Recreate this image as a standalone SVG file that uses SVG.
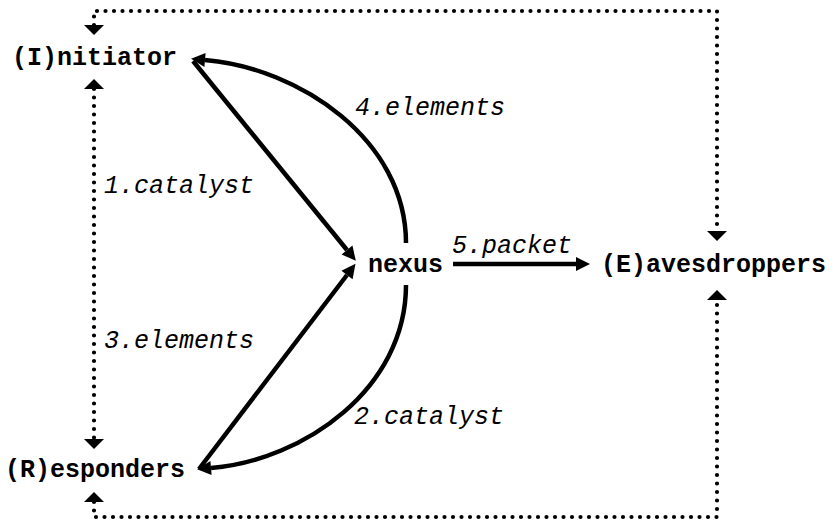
<svg xmlns="http://www.w3.org/2000/svg" width="836" height="524" viewBox="0 0 836 524">
<style>
.node{font-family:"Liberation Mono","Courier New",monospace;font-weight:bold;font-size:25px;fill:#000}
.lbl{font-family:"Liberation Mono","Courier New",monospace;font-style:italic;font-size:25px;fill:#000}
.solid{fill:none;stroke:#000;stroke-width:4.5}
.dot{fill:none;stroke:#000;stroke-width:4.2;stroke-linecap:round;stroke-dasharray:0 8.5}
</style>
<defs>
<marker id="ah" markerUnits="userSpaceOnUse" markerWidth="16" markerHeight="16" refX="0" refY="7" orient="auto-start-reverse" overflow="visible">
<path d="M0,0 L14,7 L0,14 z" fill="#000"/>
</marker>
<marker id="dh" markerUnits="userSpaceOnUse" markerWidth="22" markerHeight="22" refX="0" refY="10" orient="auto-start-reverse" overflow="visible">
<path d="M0,0 L10,10 L0,20 z" fill="#000"/>
</marker>
</defs>
<rect width="836" height="524" fill="#fff"/>
<g id="connectors">
<path class="solid" d="M193,61 L347,250" marker-end="url(#ah)"/>
<path class="solid" d="M199,469 L347,275" marker-end="url(#ah)"/>
<path class="solid" d="M406,243 C406,140 300,68 205,60" marker-end="url(#ah)"/>
<path class="solid" d="M406,285 C406,388 305,460 211,468" marker-end="url(#ah)"/>
<path class="solid" d="M453,264 L576,264" marker-end="url(#ah)"/>
<path class="dot" d="M94,89 L94,439" marker-start="url(#dh)" marker-end="url(#dh)"/>
<path class="dot" d="M94,25 L94,11 L717,11 L717,231" marker-start="url(#dh)" marker-end="url(#dh)"/>
<path class="dot" d="M94,502 L94,517 L717,517 L717,300" marker-start="url(#dh)" marker-end="url(#dh)"/>
<text class="lbl" x="104" y="193">1.catalyst</text>
<text class="lbl" x="354" y="424">2.catalyst</text>
<text class="lbl" x="104" y="348">3.elements</text>
<text class="lbl" x="355" y="115">4.elements</text>
<text class="lbl" x="452" y="253">5.packet</text>
</g>
<g id="initiator"><text class="node" x="12" y="65">(I)nitiator</text></g>
<g id="responders"><text class="node" x="5" y="477">(R)esponders</text></g>
<g id="nexus"><text class="node" x="368" y="272">nexus</text></g>
<g id="eavesdroppers"><text class="node" x="601" y="272">(E)avesdroppers</text></g>
</svg>
